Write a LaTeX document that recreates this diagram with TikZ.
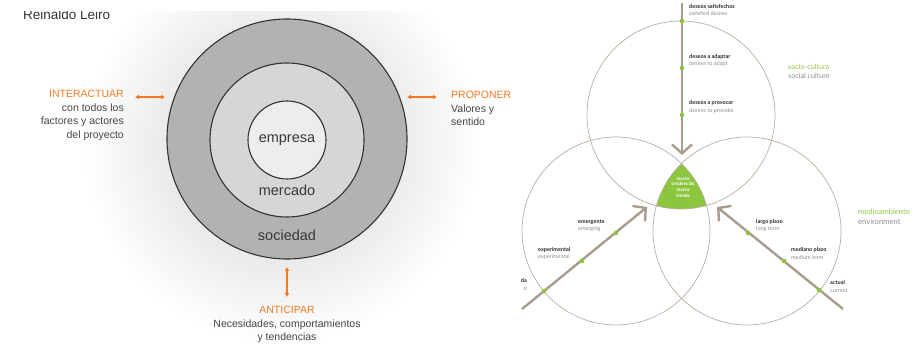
\documentclass[tikz,border=0pt]{standalone}
\usepackage{fontspec}
\setmainfont{Liberation Sans}
\newfontfamily\trendfont{Lato}
\usetikzlibrary{arrows.meta}

\definecolor{naranja}{HTML}{F27A24}
\definecolor{textogris}{HTML}{454545}
\definecolor{verde}{HTML}{8CC63F}
\definecolor{taupe}{HTML}{B9AD9F}
\definecolor{flecha}{HTML}{A89C8E}
\definecolor{ingles}{HTML}{8A8A8A}

\newcommand{\etiq}[2]{{\bfseries #1}\\{\color{ingles}#2}}

\begin{document}
\begin{tikzpicture}[x=1pt,y=-1pt,
  ring/.style={circle,draw=black!80,line width=1.1pt,inner sep=0pt},
  ringlabel/.style={font=\fontsize{14.5}{16}\selectfont,text=black!78},
  leftlabel/.style={font=\fontsize{10.5}{13.7}\selectfont,text=textogris,inner sep=0pt},
  orangearrow/.style={naranja,line width=1.3pt,{Latex[length=4pt,width=5pt]}-{Latex[length=4pt,width=5pt]}},
  venn/.style={circle,draw=taupe,line width=0.7pt,inner sep=0pt,minimum size=188pt},
  trendarrow/.style={flecha,line width=2.4pt,-{Straight Barb[length=9pt,width=20pt]}},
  dot/.style={circle,fill=verde,inner sep=0pt,minimum size=4.6pt},
  tlabel/.style={font=\trendfont\fontsize{5.5}{7.6}\selectfont,text=black!85,align=left,inner sep=0pt,anchor=west},
  zone/.style={font=\trendfont\fontsize{7.6}{10}\selectfont,align=left,inner sep=0pt,anchor=west}]

\useasboundingbox (0,0) rectangle (924,344);

% izquierda
\begin{scope}
\clip (0,12) rectangle (516,344);
\foreach \r in {121,125,...,197}
  \fill[black, opacity=0.0035] (282,145) circle (\r);
\node[anchor=base west, font=\fontsize{13.5}{16}\selectfont, text=black!80, inner sep=0pt] (autor) at (23,20) {Reinaldo Leiro};
\end{scope}

\node[ring, fill=black!30, minimum size=240pt] (sociedad) at (287,139) {};
\node[ring, fill=black!16, minimum size=154pt] (mercado) at (287,140) {};
\node[ring, fill=black!7, minimum size=78pt, ringlabel] (empresa) at (287,140) {empresa};
\node[ringlabel] (lmercado) at (287,190) {mercado};
\node[ringlabel] (lsociedad) at (287,235) {sociedad};

\coordinate (ia1) at (135,97);
\coordinate (ia2) at (165,97);
\coordinate (pr1) at (407,97);
\coordinate (pr2) at (437,97);
\coordinate (an1) at (287,267);
\coordinate (an2) at (287,297);
\draw[orangearrow] (ia1) -- (ia2);
\draw[orangearrow] (pr1) -- (pr2);
\draw[orangearrow] (an1) -- (an2);

\node[leftlabel, anchor=east, align=right] (interactuar) at (124,115.5)
  {{\color{naranja}INTERACTUAR}\\con todos los\\factores y actores\\del proyecto};
\node[leftlabel, anchor=west, align=left] (proponer) at (451,108.5)
  {{\color{naranja}PROPONER}\\Valores y\\sentido};
\node[leftlabel, anchor=center, align=center] (anticipar) at (287,324.5)
  {{\color{naranja}ANTICIPAR}\\Necesidades, comportamientos\\y tendencias};

% derecha
\begin{scope}
\clip (681,115) circle (94);
\clip (616,231) circle (94);
\fill[verde] (747,231) circle (94);
\end{scope}

\node[venn] (socio) at (681,115) {};
\node[venn] (tiempo) at (616,231) {};
\node[venn] (medio) at (747,231) {};

\node[font=\trendfont\bfseries\fontsize{4.8}{5.7}\selectfont, text=white, align=center, inner sep=0pt] (macro) at (683,187.5)
  {macro\\tendencias\\macro\\trends};

\coordinate (t1) at (682,3);
\coordinate (t2) at (682,155);
\coordinate (l1) at (522,309);
\coordinate (l2) at (647,207);
\coordinate (r1) at (843,309);
\coordinate (r2) at (717,207);
\draw[trendarrow] (t1) -- (t2);
\draw[trendarrow] (l1) -- (l2);
\draw[trendarrow] (r1) -- (r2);

\node[dot] (d1) at (682,21) {};
\node[dot] (d2) at (682,68) {};
\node[dot] (d3) at (682,115) {};
\node[dot] (e1) at (544,291) {};
\node[dot] (e2) at (582,261) {};
\node[dot] (e3) at (616,233) {};
\node[dot] (f1) at (748,233) {};
\node[dot] (f2) at (784,261) {};
\node[dot] (f3) at (819,290) {};

\node[tlabel] (satisf) at (689,10) {\etiq{deseos satisfechos}{satisfied desires}};
\node[tlabel] (adapt) at (689,60.5) {\etiq{deseos a adaptar}{desires to adapt}};
\node[tlabel] (provoc) at (689,107) {\etiq{deseos a provocar}{desires to provoke}};

\node[tlabel] (emerg) at (578,225.5) {\etiq{emergente}{emerging}};
\node[tlabel] (exper) at (538,253.5) {\etiq{experimental}{experimental}};
\node[tlabel, anchor=east, align=right] (consol) at (527,284.5) {\etiq{da}{d}};

\node[tlabel] (largo) at (756,225.5) {\etiq{largo plazo}{long term}};
\node[tlabel] (mediano) at (791,253.5) {\etiq{mediano plazo}{medium term}};
\node[tlabel] (actual) at (830,286.5) {\etiq{actual}{current}};

\node[zone, font=\trendfont\fontsize{7.2}{9}\selectfont] (sociocult) at (788,71.5) {{\color{verde}socio-cultura}\\{\color{ingles}social culture}};
\node[zone] (ambiente) at (858,217) {{\color{verde}medioambiente}\\{\color{ingles}environment}};

\end{tikzpicture}
\end{document}
